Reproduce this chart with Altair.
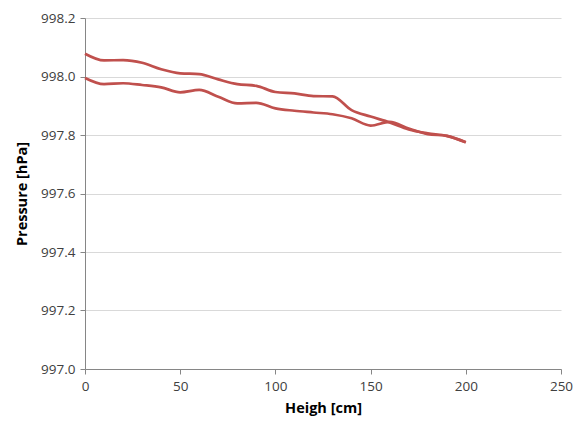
import altair as alt
import pandas as pd

heights = [0, 10, 20, 30, 40, 50, 60, 70, 80, 90, 100, 110, 120, 130, 140, 150, 160, 170, 180, 190, 200]
series_a = [998.078, 998.055, 998.056, 998.047, 998.025, 998.011, 998.008, 997.990, 997.974, 997.968,
            997.947, 997.942, 997.933, 997.932, 997.885, 997.863, 997.843, 997.819, 997.806, 997.797, 997.775]
series_b = [997.995, 997.974, 997.977, 997.971, 997.963, 997.946, 997.954, 997.931, 997.908, 997.910,
            997.891, 997.883, 997.877, 997.871, 997.857, 997.832, 997.845, 997.822, 997.803, 997.797, 997.775]

rows = []
for h, a in zip(heights, series_a):
    rows.append({"h": h, "p": a, "s": "A"})
for h, b in zip(heights, series_b):
    rows.append({"h": h, "p": b, "s": "B"})
df = pd.DataFrame(rows)

font = "Open Sans"

chart = alt.Chart(df).mark_line(
    interpolate="monotone", color="#C0504D", strokeWidth=2.7
).encode(
    x=alt.X("h:Q", scale=alt.Scale(domain=[0, 250], nice=False),
            axis=alt.Axis(title="Heigh [cm]", values=[0, 50, 100, 150, 200, 250], grid=False,
                          format="d", tickSize=5, labelPadding=5, titlePadding=9,
                          labelFlush=False, labelOverlap=False)),
    y=alt.Y("p:Q", scale=alt.Scale(domain=[997.0, 998.2], nice=False, zero=False),
            axis=alt.Axis(title="Pressure [hPa]", values=[997.0, 997.2, 997.4, 997.6, 997.8, 998.0, 998.2],
                          format=".1f", grid=True, tickSize=5, labelPadding=5, titlePadding=11,
                          labelFlush=False, labelOverlap=False)),
    detail="s:N",
).properties(
    width=476, height=351,
    autosize=alt.AutoSizeParams(type="none"),
    padding={"left": 77, "top": 10, "right": 13, "bottom": 48},
).configure_view(stroke=None).configure_axis(
    domainColor="#868686", tickColor="#868686", gridColor="#D9D9D9",
    labelFont=font, titleFont=font, labelFontSize=13.5, titleFontSize=14.5,
    labelColor="#404040", titleColor="#000000", titleFontWeight="bold",
)

chart.save("out.html", embed_options={"renderer": "svg", "actions": False})
